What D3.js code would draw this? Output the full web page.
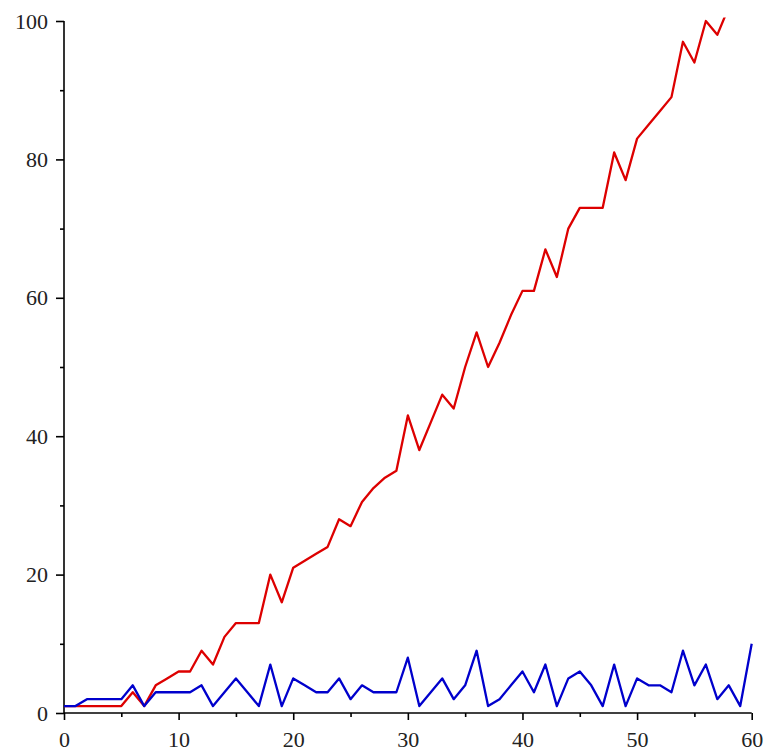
<!DOCTYPE html>
<html>
<head>
<meta charset="utf-8">
<script src="https://cdn.jsdelivr.net/npm/d3@7"></script>
<style>
  body { margin: 0; background: #fff; }
  svg { display: block; }
  .axis text { font-family: "Liberation Serif", "DejaVu Serif", serif; font-size: 22px; fill: #222; }
  .axis path, .axis line { stroke: #000; stroke-width: 1.6; }
</style>
</head>
<body>
<svg id="chart" width="769" height="751"></svg>
<script>
// values, one per step
var redValues = [1, 1, 1, 1, 1, 1, 3, 1, 4, 5, 6, 6, 9, 7, 11, 13, 13, 13, 20, 16,
    21, 22, 23, 24, 28, 27, 30.5, 32.5, 34, 35, 43, 38, 42, 46, 44, 50, 55, 50, 53.5, 57.5,
    61, 61, 67, 63, 70, 73, 73, 73, 81, 77, 83, 85, 87, 89, 97, 94, 100, 98, 102];
var blueValues = [1, 1, 2, 2, 2, 2, 4, 1, 3, 3, 3, 3, 4, 1, 3, 5, 3, 1, 7, 1,
    5, 4, 3, 3, 5, 2, 4, 3, 3, 3, 8, 1, 3, 5, 2, 4, 9, 1, 2, 4,
    6, 3, 7, 1, 5, 6, 4, 1, 7, 1, 5, 4, 4, 3, 9, 4, 7, 2, 4, 1, 10];
var xTicks = [0, 10, 20, 30, 40, 50, 60];
var xMinorTicks = [5, 15, 25, 35, 45, 55];
var yTicks = [0, 20, 40, 60, 80, 100];
var yMinorTicks = [10, 30, 50, 70, 90];

var svg = d3.select("#chart");

var x = d3.scaleLinear().domain([0, 60]).range([64, 751.7]);
var y = d3.scaleLinear().domain([0, 100]).range([713, 21]);

// the plot view stops a little above 100
svg.append("clipPath").attr("id", "view")
    .append("rect")
    .attr("x", x(0) - 5).attr("y", y(100.5))
    .attr("width", x(60) - x(0) + 10).attr("height", y(0) - y(100.5) + 5);

var line = d3.line()
    .x(function(d, i){ return x(i); })
    .y(function(d){ return y(d); });

// axes
var gx = svg.append("g").attr("class", "axis")
    .attr("transform", "translate(0," + y(0) + ")")
    .call(d3.axisBottom(x).tickValues(xTicks).tickSize(7).tickPadding(11).tickFormat(d3.format("d")));
svg.append("g").attr("class", "axis")
    .attr("transform", "translate(0," + y(0) + ")")
    .call(d3.axisBottom(x).tickValues(xMinorTicks).tickSize(4).tickFormat(""))
    .select(".domain").remove();

var gy = svg.append("g").attr("class", "axis")
    .attr("transform", "translate(" + x(0) + ",0)")
    .call(d3.axisLeft(y).tickValues(yTicks).tickSize(8).tickPadding(8).tickFormat(d3.format("d")));
svg.append("g").attr("class", "axis")
    .attr("transform", "translate(" + x(0) + ",0)")
    .call(d3.axisLeft(y).tickValues(yMinorTicks).tickSize(4).tickFormat(""))
    .select(".domain").remove();

// no end caps on the axis lines
gx.select(".domain").attr("d", "M" + x(0) + ",0H" + x(60));
gy.select(".domain").attr("d", "M0," + y(0) + "V" + y(100));

// series
svg.append("path")
    .datum(redValues)
    .attr("clip-path", "url(#view)")
    .attr("fill", "none")
    .attr("stroke", "#dd0000")
    .attr("stroke-width", 2.3)
    .attr("stroke-linejoin", "round")
    .attr("d", line);

svg.append("path")
    .datum(blueValues)
    .attr("clip-path", "url(#view)")
    .attr("fill", "none")
    .attr("stroke", "#0000cc")
    .attr("stroke-width", 2.3)
    .attr("stroke-linejoin", "round")
    .attr("d", line);
</script>
</body>
</html>
